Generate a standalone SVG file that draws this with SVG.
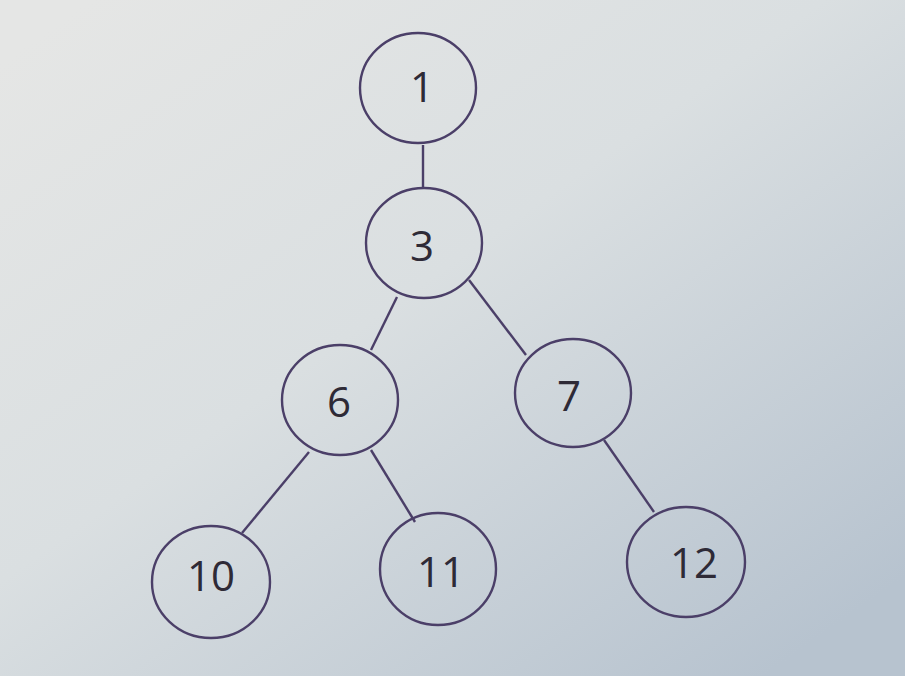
<svg xmlns="http://www.w3.org/2000/svg" width="905" height="676" viewBox="0 0 905 676">
<defs>
<linearGradient id="bg" x1="0.1" y1="0" x2="0.95" y2="0.9">
<stop offset="0" stop-color="#e5e6e5"/>
<stop offset="0.45" stop-color="#dadfe1"/>
<stop offset="1" stop-color="#b7c3cf"/>
</linearGradient>
<style>
.n ellipse{fill:none;stroke:#4b3f68;stroke-width:2.4}
.n text{font-family:"Open Sans","Noto Sans",sans-serif;font-size:42px;fill:#2e2a36;text-anchor:middle}
#edges line{stroke:#4b3f68;stroke-width:2.4}
</style>
</defs>
<rect width="905" height="676" fill="url(#bg)"/>
<g id="edges">
<line x1="423" y1="145" x2="423" y2="188"/>
<line x1="397" y1="297" x2="371" y2="350"/>
<line x1="469" y1="280" x2="526" y2="355"/>
<line x1="309" y1="452" x2="242" y2="533"/>
<line x1="371" y1="450" x2="415" y2="522"/>
<line x1="604" y1="440" x2="654" y2="512"/>
</g>
<g id="node1" class="n"><ellipse cx="418" cy="88" rx="58" ry="55"/><text x="422" y="102">1</text></g>
<g id="node3" class="n"><ellipse cx="424" cy="243" rx="58" ry="55"/><text x="422" y="261">3</text></g>
<g id="node6" class="n"><ellipse cx="340" cy="400" rx="58" ry="55"/><text x="339" y="417">6</text></g>
<g id="node7" class="n"><ellipse cx="573" cy="393" rx="58" ry="54"/><text x="569" y="411">7</text></g>
<g id="node10" class="n"><ellipse cx="211" cy="582" rx="59" ry="56"/><text x="211" y="591">10</text></g>
<g id="node11" class="n"><ellipse cx="438" cy="569" rx="58" ry="56"/><text x="441" y="587">11</text></g>
<g id="node12" class="n"><ellipse cx="686" cy="562" rx="59" ry="55"/><text x="694" y="578">12</text></g>
</svg>
